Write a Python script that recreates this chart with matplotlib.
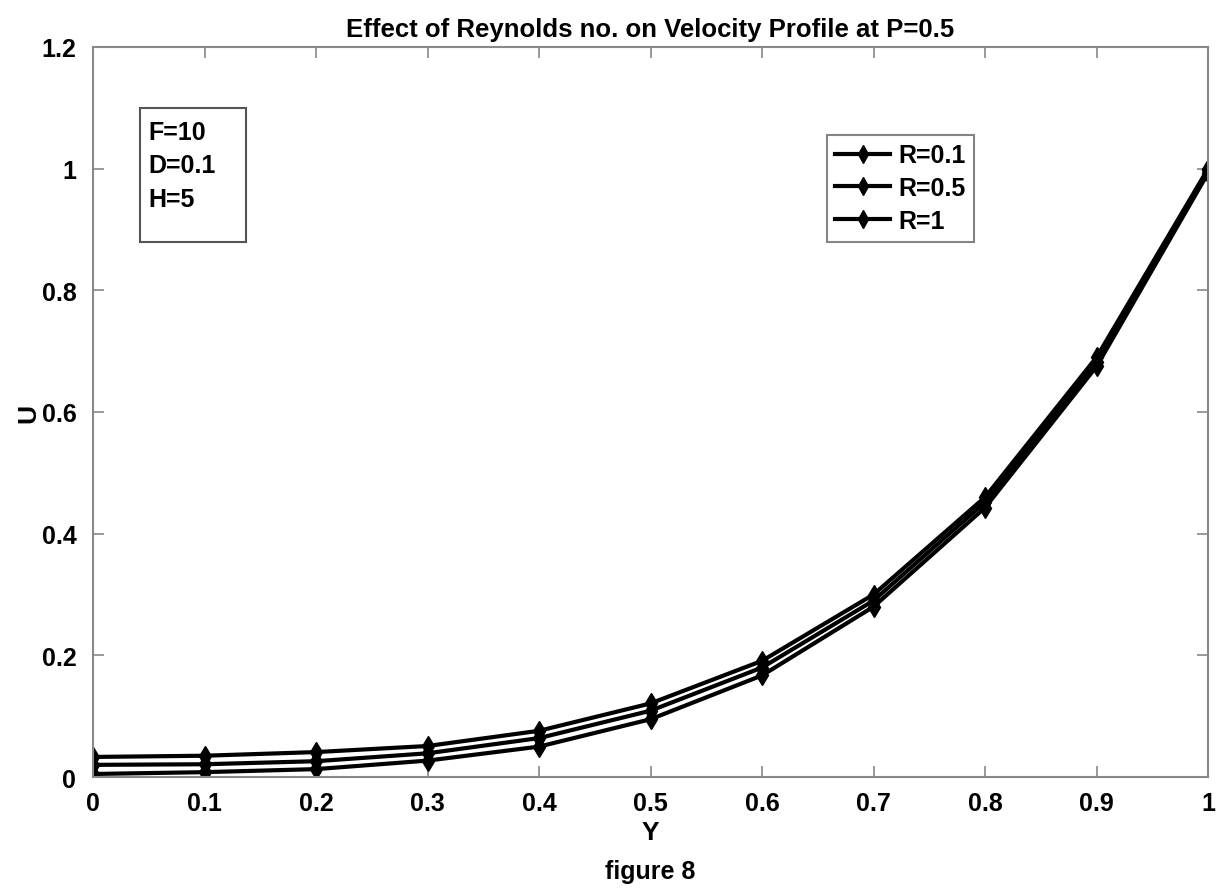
import matplotlib
matplotlib.use("Agg")
import matplotlib.pyplot as plt
from matplotlib.patches import Rectangle

plt.rcParams['font.family'] = ['Liberation Sans', 'DejaVu Sans']
plt.rcParams['font.weight'] = 'bold'

y_pos = [0, 0.1, 0.2, 0.3, 0.4, 0.5, 0.6, 0.7, 0.8, 0.9, 1.0]
u_r01 = [0.033, 0.035, 0.041, 0.051, 0.076, 0.121, 0.191, 0.300, 0.460, 0.690, 1.000]
u_r05 = [0.020, 0.021, 0.026, 0.039, 0.064, 0.109, 0.180, 0.290, 0.452, 0.683, 0.998]
u_r1 = [0.005, 0.008, 0.013, 0.027, 0.050, 0.095, 0.167, 0.280, 0.443, 0.675, 0.993]
labels = ["R=0.1", "R=0.5", "R=1"]

fig = plt.figure(figsize=(12.16, 8.95), dpi=100)
ax = fig.add_axes([0.0765, 0.1307, 0.917, 0.8157])

for u, lab in zip([u_r01, u_r05, u_r1], labels):
    ax.plot(y_pos, u, color='black', lw=3, marker='d', ms=10, mfc='black', mec='black', label=lab)

ax.set_xlim(0, 1)
ax.set_ylim(0, 1.2)
ax.set_xticks([0, 0.1, 0.2, 0.3, 0.4, 0.5, 0.6, 0.7, 0.8, 0.9, 1])
ax.set_xticklabels(["0", "0.1", "0.2", "0.3", "0.4", "0.5", "0.6", "0.7", "0.8", "0.9", "1"])
ax.set_yticks([0, 0.2, 0.4, 0.6, 0.8, 1.0, 1.2])
ax.set_yticklabels(["0", "0.2", "0.4", "0.6", "0.8", "1", "1.2"])
ax.tick_params(direction='in', length=8, width=1.2, color='#888888', labelsize=18, top=True, right=True,
               labeltop=False, labelright=False)
ax.tick_params(axis='x', pad=10)
ax.tick_params(axis='y', pad=12)
for s in ax.spines.values():
    s.set_color('#888888')
    s.set_linewidth(1.5)

ax.set_title("Effect of Reynolds no. on Velocity Profile at P=0.5", fontsize=18.5, fontweight='bold', pad=8)
ax.set_xlabel("Y", fontsize=19, fontweight='bold', labelpad=4)
ax.set_ylabel("U", fontsize=19, fontweight='bold')
ax.yaxis.set_label_coords(-0.047, 0.5)
fig.text(0.535, 0.018, "figure 8", ha='center', fontsize=18, fontweight='bold')

leg = ax.legend(loc='upper left', bbox_to_anchor=(0.658, 0.88), fontsize=18, frameon=True, fancybox=False,
                edgecolor='#666666', handlelength=2.2, borderpad=0.35, labelspacing=0.35, handletextpad=0.3,
                borderaxespad=0)
leg.get_frame().set_linewidth(1.5)
for h in leg.legend_handles:
    h.set_markersize(9)

ax.add_patch(Rectangle((0.042, 0.733), 0.095, 0.183, transform=ax.transAxes, fill=False,
                       edgecolor='#555555', lw=1.5))
ax.text(0.05, 0.9, "F=10\nD=0.1\nH=5", transform=ax.transAxes, va='top', ha='left',
        fontsize=18, fontweight='bold', linespacing=1.5)

fig.savefig("out.png", dpi=100)
